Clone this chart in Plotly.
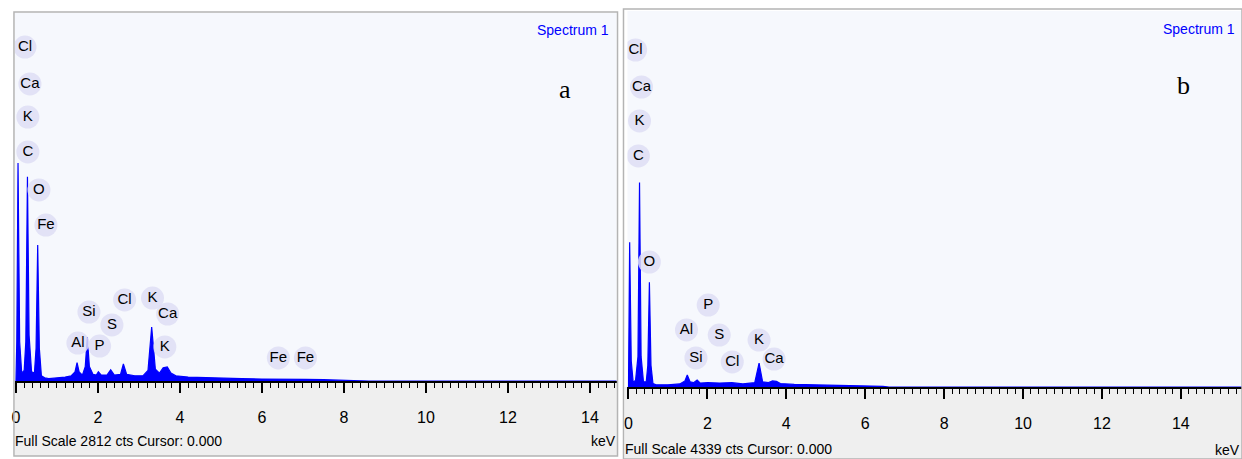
import plotly.graph_objects as go

# ---------------- data ----------------
# Panel a: EDS spectrum (energy keV, counts), full scale 2812 cts
a_energy = [0.0, 0.02, 0.05, 0.09, 0.14, 0.20, 0.24, 0.28, 0.32, 0.38, 0.45, 0.49, 0.53, 0.57, 0.62,
            0.70, 0.80, 1.00, 1.20, 1.35, 1.44, 1.49, 1.54, 1.62, 1.69, 1.74, 1.79, 1.88, 1.96, 2.01,
            2.08, 2.22, 2.31, 2.40, 2.55, 2.62, 2.70, 2.90, 3.10, 3.22, 3.31, 3.40, 3.50, 3.59, 3.69,
            3.78, 3.90, 4.20, 4.60, 5.00, 5.50, 6.00, 6.40, 6.80, 7.06, 7.50, 8.00, 8.40, 8.60, 14.7]
a_counts = [0, 300, 1666, 300, 60, 80, 300, 1560, 350, 70, 60, 250, 1040, 250, 40,
            25, 18, 22, 30, 40, 70, 140, 70, 45, 110, 336, 110, 50, 45, 70,
            45, 45, 85, 45, 50, 130, 50, 40, 40, 80, 413, 90, 60, 100, 107,
            60, 40, 30, 25, 22, 18, 15, 16, 12, 12, 10, 8, 5, 0, 0]
a_full_scale = 2812

# Panel b: EDS spectrum, full scale 4339 cts
b_energy = [0.0, 0.01, 0.03, 0.07, 0.12, 0.18, 0.24, 0.28, 0.32, 0.38, 0.45, 0.49, 0.53, 0.57, 0.62,
            0.70, 1.00, 1.30, 1.43, 1.49, 1.56, 1.65, 1.74, 1.82, 2.01, 2.31, 2.62, 2.90, 3.20, 3.31,
            3.40, 3.55, 3.65, 3.75, 3.85, 4.20, 5.00, 6.00, 6.45, 6.60, 15.6]
b_counts = [0, 400, 1670, 300, 50, 80, 350, 2360, 350, 60, 60, 250, 1210, 250, 40,
            25, 25, 35, 70, 138, 60, 50, 80, 45, 50, 45, 50, 35, 50, 276,
            60, 50, 70, 65, 40, 30, 22, 15, 8, 0, 0]
b_full_scale = 4339

# Element labels (text, energy position, counts position)
a_labels = ["Cl", "Ca", "K", "C", "O", "Fe", "Al", "Si", "P", "S", "Cl", "K", "Ca", "K", "Fe", "Fe"]
a_label_x = [0.22, 0.34, 0.29, 0.29, 0.56, 0.73, 1.51, 1.78, 2.04, 2.34, 2.65, 3.33, 3.70, 3.63, 6.40, 7.06]
a_label_y = [2552, 2270, 2017, 1750, 1460, 1192, 290, 527, 267, 428, 619, 634, 512, 260, 176, 176]

b_labels = ["Cl", "Ca", "K", "C", "O", "Al", "Si", "P", "S", "Cl", "K", "Ca"]
b_label_x = [0.18, 0.33, 0.28, 0.25, 0.53, 1.47, 1.71, 2.02, 2.30, 2.63, 3.31, 3.69]
b_label_y = [3889, 3462, 3070, 2666, 1442, 658, 335, 946, 600, 289, 542, 323]

major_ticks = [0, 2, 4, 6, 8, 10, 12, 14]
odd_ticks = [1, 3, 5, 7, 9, 11, 13, 15]

# ---------------- layout helpers ----------------
W, H = 1242, 459
def px(x):
    return x / W
def py(y):
    return 1 - y / H

FONT = "Liberation Sans, Arial, sans-serif"
SERIF = "Liberation Serif, Times New Roman, serif"
BLUE = "#0000ff"

fig = go.Figure()

# spectra
fig.add_trace(go.Scatter(x=a_energy, y=a_counts, mode="lines", fill="tozeroy",
                         line=dict(color=BLUE, width=1.2), fillcolor=BLUE,
                         xaxis="x", yaxis="y", hoverinfo="skip", showlegend=False))
fig.add_trace(go.Scatter(x=b_energy, y=b_counts, mode="lines", fill="tozeroy",
                         line=dict(color=BLUE, width=1.2), fillcolor=BLUE,
                         xaxis="x2", yaxis="y2", hoverinfo="skip", showlegend=False))

# element labels with bubbles
lab_marker = dict(size=23, color="rgba(222,222,245,0.85)", line=dict(width=0))
fig.add_trace(go.Scatter(x=a_label_x, y=a_label_y, text=a_labels, mode="markers+text",
                         textposition="middle center", marker=lab_marker,
                         textfont=dict(family=FONT, size=15, color="black"),
                         xaxis="x", yaxis="y", hoverinfo="skip", showlegend=False))
fig.add_trace(go.Scatter(x=b_label_x, y=b_label_y, text=b_labels, mode="markers+text",
                         textposition="middle center", marker=lab_marker,
                         textfont=dict(family=FONT, size=15, color="black"),
                         xaxis="x2", yaxis="y2", hoverinfo="skip", showlegend=False))

# panel geometry (pixels)
A = dict(l=12, r=615, t=13, b=381, x0=13, ppk=41.1)
B = dict(l=626, r=1242, t=11, b=387, x0=627, ppk=39.55)

def xrange(P):
    return [(P["l"] - P["x0"]) / P["ppk"], (P["r"] - P["x0"]) / P["ppk"]]

def xaxis_main(P):
    return dict(domain=[px(P["l"]), px(P["r"])], range=xrange(P), showgrid=False, zeroline=False,
                showline=True, linecolor="black", linewidth=2,
                ticks="outside", ticklen=10, tickwidth=1.5, tickcolor="black",
                tickvals=major_ticks, ticktext=[str(v) for v in major_ticks],
                tickfont=dict(family=FONT, size=16, color="black"), ticklabelstandoff=11,
                minor=dict(dtick=0.2, tick0=0, ticks="outside", ticklen=5, tickwidth=1.3,
                           tickcolor="black", showgrid=False),
                fixedrange=True)

def xaxis_odd(P, overlay, anchor):
    return dict(overlaying=overlay, anchor=anchor, range=xrange(P), showgrid=False, zeroline=False,
                showline=False, ticks="outside", ticklen=8, tickwidth=1.4, tickcolor="black",
                tickvals=odd_ticks, showticklabels=False, side="bottom", fixedrange=True)

def yaxis(P, fs):
    return dict(domain=[py(P["b"]), py(P["t"])], range=[0, fs], visible=False, fixedrange=True)

fig.update_layout(
    width=W, height=H, margin=dict(l=0, r=0, t=0, b=0),
    paper_bgcolor="white", plot_bgcolor="#f6f8fd",
    xaxis=dict(**xaxis_main(A), anchor="y"),
    yaxis=dict(**yaxis(A, a_full_scale), anchor="x"),
    xaxis2=dict(**xaxis_main(B), anchor="y2"),
    yaxis2=dict(**yaxis(B, b_full_scale), anchor="x2"),
    xaxis3=xaxis_odd(A, "x", "y"),
    xaxis4=xaxis_odd(B, "x2", "y2"),
    showlegend=False,
)

# grey bottom bands and frames
shapes = [
    dict(type="rect", xref="paper", yref="paper", x0=px(12), x1=px(616), y0=py(456), y1=py(381),
         fillcolor="#efefef", line=dict(width=0), layer="below"),
    dict(type="rect", xref="paper", yref="paper", x0=px(623), x1=px(1242), y0=py(459), y1=py(387),
         fillcolor="#efefef", line=dict(width=0), layer="below"),
    dict(type="rect", xref="paper", yref="paper", x0=px(11), x1=px(616), y0=py(456), y1=py(12),
         line=dict(color="#b4b4b4", width=1.5), fillcolor="rgba(0,0,0,0)"),
    dict(type="rect", xref="paper", yref="paper", x0=px(622), x1=px(1242), y0=py(459), y1=py(9),
         line=dict(color="#b4b4b4", width=1.5), fillcolor="rgba(0,0,0,0)"),
]
fig.update_layout(shapes=shapes)

ann = [
    dict(text="Spectrum 1", x=px(609), y=py(30), xanchor="right", yanchor="middle",
         font=dict(family=FONT, size=14, color=BLUE)),
    dict(text="Spectrum 1", x=px(1237), y=py(29), xanchor="right", yanchor="middle",
         font=dict(family=FONT, size=14, color=BLUE)),
    dict(text="a", x=px(563), y=py(90), xanchor="center", yanchor="middle",
         font=dict(family=SERIF, size=26, color="black")),
    dict(text="b", x=px(1183), y=py(86), xanchor="center", yanchor="middle",
         font=dict(family=SERIF, size=26, color="black")),
    dict(text="Full Scale %d cts Cursor: 0.000" % a_full_scale, x=px(10), y=py(441),
         xanchor="left", yanchor="middle", font=dict(family=FONT, size=14, color="black")),
    dict(text="Full Scale %d cts Cursor: 0.000" % b_full_scale, x=px(621), y=py(449),
         xanchor="left", yanchor="middle", font=dict(family=FONT, size=14, color="black")),
    dict(text="keV", x=px(616), y=py(441), xanchor="right", yanchor="middle",
         font=dict(family=FONT, size=14, color="black")),
    dict(text="keV", x=px(1242), y=py(450), xanchor="right", yanchor="middle",
         font=dict(family=FONT, size=14, color="black")),
]
for a in ann:
    a.update(xref="paper", yref="paper", showarrow=False)
fig.update_layout(annotations=ann)

fig.write_html("out.html", config={"displayModeBar": False},
               post_script="document.body.style.margin='0px';document.body.style.padding='0px';"
                           "document.body.style.overflow='hidden';")
